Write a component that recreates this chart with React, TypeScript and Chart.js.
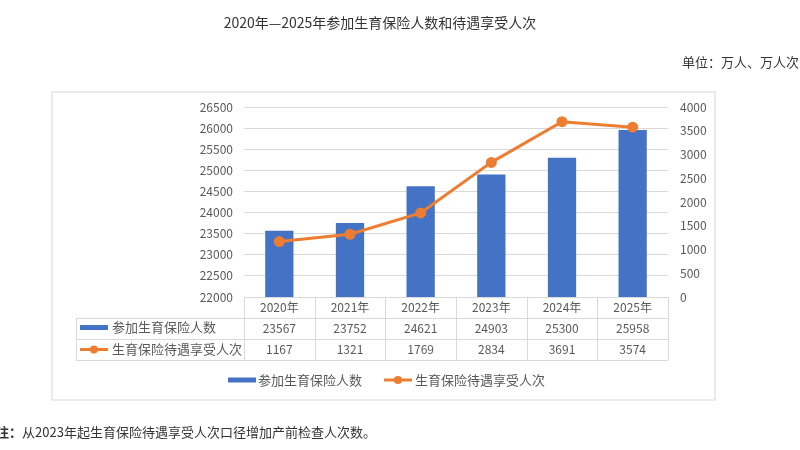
import React, { useEffect, useRef } from "react";
import { Chart, registerables } from "chart.js";

Chart.register(...registerables);

const years = ["2020年", "2021年", "2022年", "2023年", "2024年", "2025年"];
const insured = [23567, 23752, 24621, 24903, 25300, 25958];
const benefits = [1167, 1321, 1769, 2834, 3691, 3574];
const insuredLabel = "参加生育保险人数";
const benefitsLabel = "生育保险待遇享受人次";
const titleText = "2020年—2025年参加生育保险人数和待遇享受人次";
const unitText = "单位：万人、万人次";
const noteBold = "注：";
const noteText = "从2023年起生育保险待遇享受人次口径增加产前检查人次数。";

const BLUE = "#4472C4";
const ORANGE = "#ED7D31";
const GRID = "#d9d9d9";
const TEXT = "#595959";
const FONT = "'Noto Sans CJK SC', 'Noto Sans', sans-serif";

const tablePlugin = {
  id: "tableAndLegend",
  beforeDraw(chart: any) {
    const ctx = chart.ctx;
    ctx.save();
    ctx.strokeStyle = "#e3e3e3";
    ctx.lineWidth = 1.5;
    ctx.strokeRect(52, 92, 663, 308);
    ctx.restore();
  },
  afterDraw(chart: any) {
    const ctx = chart.ctx;
    const area = chart.chartArea;
    const x = chart.scales.x;
    const n = years.length;
    const colW = (area.right - area.left) / n;
    const rowH = 21;
    const top = area.bottom;
    const labelLeft = 76;
    ctx.save();
    ctx.strokeStyle = GRID;
    ctx.lineWidth = 1;
    const hl = (y: number, x0: number, x1: number) => {
      ctx.beginPath();
      ctx.moveTo(x0, Math.round(y) + 0.5);
      ctx.lineTo(x1, Math.round(y) + 0.5);
      ctx.stroke();
    };
    const vl = (xx: number, y0: number, y1: number) => {
      ctx.beginPath();
      ctx.moveTo(Math.round(xx) + 0.5, y0);
      ctx.lineTo(Math.round(xx) + 0.5, y1);
      ctx.stroke();
    };
    hl(top, area.left, area.right);
    hl(top + rowH, labelLeft, area.right);
    hl(top + rowH * 2, labelLeft, area.right);
    hl(top + rowH * 3, labelLeft, area.right);
    for (let i = 0; i <= n; i++) {
      vl(area.left + i * colW, top, top + rowH * 3);
    }
    vl(labelLeft, top + rowH, top + rowH * 3);

    ctx.fillStyle = TEXT;
    ctx.textAlign = "center";
    ctx.textBaseline = "middle";
    ctx.font = `12px ${FONT}`;
    for (let i = 0; i < n; i++) {
      const cx = x.getPixelForValue(i);
      ctx.fillText(years[i], cx, top + rowH * 0.5);
      ctx.fillText(String(insured[i]), cx, top + rowH * 1.5);
      ctx.fillText(String(benefits[i]), cx, top + rowH * 2.5);
    }

    const drawBarKey = (kx: number, ky: number) => {
      ctx.fillStyle = BLUE;
      ctx.fillRect(kx, ky - 2.5, 28, 5);
    };
    const drawLineKey = (kx: number, ky: number) => {
      ctx.strokeStyle = ORANGE;
      ctx.lineWidth = 3;
      ctx.beginPath();
      ctx.moveTo(kx, ky);
      ctx.lineTo(kx + 28, ky);
      ctx.stroke();
      ctx.fillStyle = ORANGE;
      ctx.beginPath();
      ctx.arc(kx + 14, ky, 4, 0, Math.PI * 2);
      ctx.fill();
    };

    ctx.textAlign = "left";
    ctx.font = `13px ${FONT}`;
    const r2 = top + rowH * 1.5 - 1;
    const r3 = top + rowH * 2.5;
    drawBarKey(80, r2);
    ctx.fillStyle = TEXT;
    ctx.fillText(insuredLabel, 112, r2);
    drawLineKey(80, r3);
    ctx.fillStyle = TEXT;
    ctx.fillText(benefitsLabel, 112, r3);

    const ly = 380;
    drawBarKey(228, ly);
    ctx.fillStyle = TEXT;
    ctx.fillText(insuredLabel, 258, ly);
    drawLineKey(384, ly);
    ctx.fillStyle = TEXT;
    ctx.fillText(benefitsLabel, 415, ly);
    ctx.restore();
  },
};

export default function App() {
  const ref = useRef<HTMLCanvasElement | null>(null);
  useEffect(() => {
    if (!ref.current) return;
    const chart = new Chart(ref.current, {
      type: "bar",
      data: {
        labels: years,
        datasets: [
          {
            type: "line",
            label: benefitsLabel,
            data: benefits,
            yAxisID: "y1",
            borderColor: ORANGE,
            backgroundColor: ORANGE,
            borderWidth: 3,
            pointRadius: 4,
            pointBackgroundColor: ORANGE,
            pointBorderColor: ORANGE,
            tension: 0,
            order: 0,
          } as any,
          {
            type: "bar",
            label: insuredLabel,
            data: insured,
            yAxisID: "y",
            backgroundColor: BLUE,
            categoryPercentage: 0.8,
            barPercentage: 0.5,
            order: 1,
          } as any,
        ],
      },
      options: {
        responsive: false,
        animation: false,
        layout: { padding: { left: 164, right: 72, top: 107, bottom: 153 } },
        plugins: {
          legend: { display: false },
          title: { display: false },
          tooltip: { enabled: false },
        },
        scales: {
          x: { display: false, offset: true },
          y: {
            position: "left",
            min: 22000,
            max: 26500,
            ticks: {
              stepSize: 500,
              padding: 11,
              color: TEXT,
              font: { size: 12, family: FONT },
              callback: (v: any) => String(v),
            },
            grid: { color: GRID, lineWidth: 1, drawTicks: false },
            border: { display: false },
            afterFit: (s: any) => {
              s.width = 80;
            },
          },
          y1: {
            position: "right",
            min: 0,
            max: 4000,
            ticks: {
              stepSize: 500,
              padding: 12,
              color: TEXT,
              font: { size: 12, family: FONT },
              callback: (v: any) => String(v),
            },
            grid: { display: false, drawTicks: false },
            border: { display: false },
            afterFit: (s: any) => {
              s.width = 60;
            },
          },
        } as any,
      },
      plugins: [tablePlugin],
    });
    return () => chart.destroy();
  }, []);

  return (
    <div
      style={{
        position: "absolute",
        left: 0,
        top: 0,
        width: 800,
        height: 450,
        overflow: "hidden",
        background: "#fff",
        fontFamily: FONT,
      }}
    >
      <canvas ref={ref} width={800} height={450} style={{ position: "absolute", left: 0, top: 0 }} />
      <div
        style={{
          position: "absolute",
          left: 180,
          top: 12,
          width: 400,
          textAlign: "center",
          fontSize: 14,
          lineHeight: "20px",
          color: "#333",
          whiteSpace: "nowrap",
        }}
      >
        {titleText}
      </div>
      <div
        style={{
          position: "absolute",
          left: 682,
          top: 52,
          fontSize: 13,
          lineHeight: "20px",
          color: "#333",
          whiteSpace: "nowrap",
        }}
      >
        {unitText}
      </div>
      <div
        style={{
          position: "absolute",
          left: -4,
          top: 422,
          fontSize: 13,
          lineHeight: "20px",
          color: "#333",
          whiteSpace: "nowrap",
        }}
      >
        <b>{noteBold}</b>
        {noteText}
      </div>
    </div>
  );
}
